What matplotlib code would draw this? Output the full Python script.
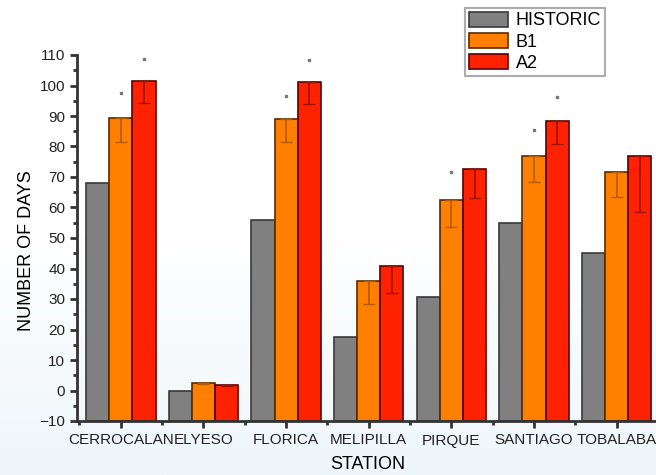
import numpy as np
import matplotlib
matplotlib.use("Agg")
import matplotlib.pyplot as plt
from matplotlib.ticker import MultipleLocator

stations = ["CERROCALAN", "ELYESO", "FLORICA", "MELIPILLA", "PIRQUE", "SANTIAGO", "TOBALABA"]
historic = [68, 0, 56, 17.4, 30.7, 55, 45]
b1 = [89.5, 2.3, 89, 36, 62.5, 77, 71.5]
a2 = [101.5, 1.7, 101.2, 40.7, 72.5, 88.5, 77]
b1_err = [8, 0.3, 7.5, 7.6, 9, 8.5, 8]
a2_err = [7.3, 0.2, 7.3, 8.6, 9.3, 7.8, 18.5]
# upper ends only visible as small dots for some bars
b1_dot = [True, False, True, False, True, True, False]
a2_dot = [True, False, True, False, False, True, False]

plt.rcParams["font.family"] = ["Liberation Sans", "DejaVu Sans"]

fig = plt.figure(figsize=(6.56, 4.75), dpi=100)
# faint bluish background gradient
bg = fig.add_axes([0, 0, 1, 1], zorder=-10)
grad = np.linspace(0, 1, 256).reshape(-1, 1)
bg.imshow(grad, aspect="auto", cmap=matplotlib.colors.LinearSegmentedColormap.from_list(
    "bg", ["#ffffff", "#ffffff", "#eef6fa"]), extent=[0, 1, 1, 0])
bg.axis("off")

ax = fig.add_axes([77 / 656, 1 - 421 / 475, (658 - 77) / 656, (421 - 55) / 475])
ax.patch.set_alpha(0)

base = -10
x = np.arange(1, len(stations) + 1)
w = 0.28
ax.bar(x - w, np.array(historic) - base, w, bottom=base, color="#808080",
       edgecolor="#3a3a3a", linewidth=1.2, label="HISTORIC")
ax.bar(x, np.array(b1) - base, w, bottom=base, color="#ff8000",
       edgecolor="#5a2a00", linewidth=1.2, label="B1")
ax.bar(x + w, np.array(a2) - base, w, bottom=base, color="#ff2200",
       edgecolor="#5a0000", linewidth=1.2, label="A2")

# lower error bars
ax.errorbar(x, b1, yerr=[b1_err, np.zeros(len(b1))], fmt="none", ecolor="#b35a00",
            elinewidth=1.2, capsize=4)
ax.errorbar(x + w, a2, yerr=[a2_err, np.zeros(len(a2))], fmt="none", ecolor="#a01000",
            elinewidth=1.2, capsize=4)
for i in range(len(stations)):
    if b1_dot[i]:
        ax.plot(x[i], b1[i] + b1_err[i], "s", ms=2, color="#777777")
    if a2_dot[i]:
        ax.plot(x[i] + w, a2[i] + a2_err[i], "s", ms=2, color="#777777")

ax.set_xlim(0.47, 7.5)
ax.set_ylim(-10, 110)
ax.yaxis.set_major_locator(MultipleLocator(10))
ax.yaxis.set_minor_locator(MultipleLocator(5))
ax.set_xticks(x)
ax.set_xticklabels(stations)
ax.set_xticks(np.arange(0.5, 8, 1), minor=True)
ax.tick_params(axis="both", which="major", direction="out", length=5, width=2,
               color="#333333", labelsize=11, labelcolor="#222222")
ax.tick_params(axis="both", which="minor", direction="out", length=3, width=2,
               color="#333333")
ax.tick_params(axis="x", pad=4)
for s in ["top", "right"]:
    ax.spines[s].set_visible(False)
for s in ["left", "bottom"]:
    ax.spines[s].set_linewidth(2)
    ax.spines[s].set_color("#333333")

ax.set_ylabel("NUMBER OF DAYS", fontsize=13)
ax.yaxis.set_label_coords(-42 / 581, (421 - 251) / 366)
ax.set_xlabel("STATION", fontsize=13, labelpad=6)

leg = ax.legend(loc="upper left", bbox_to_anchor=((465 - 77) / 581, 1 + 47 / 366),
                fontsize=13, frameon=True, fancybox=False, edgecolor="#999999",
                handlelength=2.2, handleheight=0.9, borderpad=0.2, labelspacing=0.2,
                handletextpad=0.4, borderaxespad=0)
leg.get_frame().set_linewidth(1.5)

fig.savefig("out.png", dpi=100)
